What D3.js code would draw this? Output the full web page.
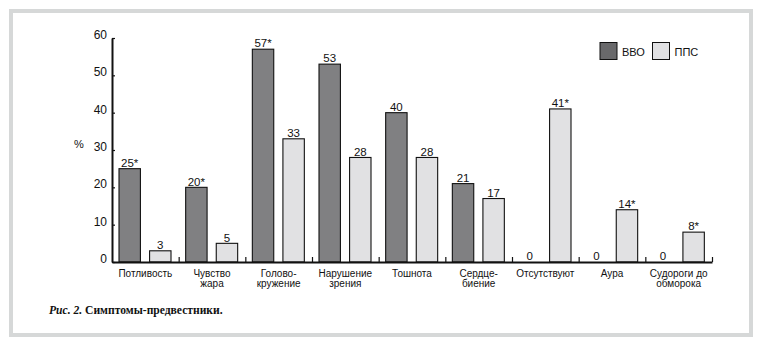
<!DOCTYPE html>
<html>
<head>
<meta charset="utf-8">
<script src="https://cdn.jsdelivr.net/npm/d3@7"></script>
<style>
  html, body { margin: 0; padding: 0; background: #ffffff; }
  svg { display: block; }
</style>
</head>
<body>
<svg id="chart" width="760" height="346"></svg>
<script>
// ---- data ----
const categories = ["Потливость", "Чувство\nжара", "Голово-\nкружение", "Нарушение\nзрения", "Тошнота", "Сердце-\nбиение", "Отсутствуют", "Аура", "Судороги до\nобморока"];
const seriesNames = ["ВВО", "ППС"];
const vvoValues = [25, 20, 57, 53, 40, 21, 0, 0, 0];
const ppsValues = [3, 5, 33, 28, 28, 17, 41, 14, 8];
const vvoMarks = ["*", "*", "*", "", "", "", "", "", ""];
const ppsMarks = ["", "", "", "", "", "", "*", "*", "*"];
const yTicks = [0, 10, 20, 30, 40, 50, 60];
const yLabel = "%";
const captionItalic = "Рис. 2.";
const captionBold = " Симптомы-предвестники.";

(function () {
const seriesValues = [vvoValues, ppsValues];
const seriesMarks = [vvoMarks, ppsMarks];
const fills = ["#808082", "#e1e1e3"];
const legendFills = ["#69696b", "#e1e1e3"];

const svg = d3.select("#chart");

// frame
svg.append("rect").attr("x", 11).attr("y", 11).attr("width", 740).attr("height", 324)
  .attr("fill", "#ffffff").attr("stroke", "#d6d8d8").attr("stroke-width", 4);

const mLeft = 112, mRight = 712, mTop = 38, mBottom = 262;

const x = d3.scaleBand().domain(categories).range([mLeft, mRight]).padding(0);
const xInner = d3.scaleBand().domain(seriesNames).range([7, 59]).paddingInner(0.3).paddingOuter(0);
const y = d3.scaleLinear().domain([0, 60]).range([mBottom, mTop]);
const xIdx = d3.scaleLinear().domain([0, categories.length]).range([mLeft, mRight]);

const font = "'Liberation Sans', Arial, Helvetica, sans-serif";

// bars
const rows = [];
categories.forEach((c, i) => {
  seriesNames.forEach((s, j) => {
    rows.push({cat: c, s: s, j: j, v: seriesValues[j][i], m: seriesMarks[j][i]});
  });
});

svg.append("g").selectAll("rect").data(rows.filter(d => d.v > 0)).join("rect")
  .attr("x", d => x(d.cat) + xInner(d.s))
  .attr("y", d => y(d.v))
  .attr("width", xInner.bandwidth())
  .attr("height", d => y(0) - y(d.v))
  .attr("fill", d => fills[d.j])
  .attr("stroke", "#111")
  .attr("stroke-width", 1.1);

// value labels
svg.append("g").selectAll("text").data(rows).join("text")
  .attr("x", d => x(d.cat) + xInner(d.s) + xInner.bandwidth() / 2)
  .attr("y", d => y(d.v) - 1.8)
  .attr("text-anchor", "middle")
  .attr("font-family", font)
  .attr("font-size", 11.5)
  .attr("fill", "#111")
  .text(d => d.v + d.m);

// y axis
const yAxis = svg.append("g").attr("transform", `translate(${mLeft},0)`)
  .call(d3.axisLeft(y).tickValues(yTicks).tickSize(-3).tickSizeOuter(0).tickPadding(5));
yAxis.select(".domain").attr("stroke", "#111").attr("stroke-width", 2);
yAxis.selectAll(".tick line").attr("stroke", "#111").attr("stroke-width", 1.2);
yAxis.selectAll(".tick text").attr("font-family", font).attr("font-size", 12)
  .attr("fill", "#111").attr("dy", "0.05em");

// x axis (boundary ticks)
const xAxis = svg.append("g").attr("transform", `translate(0,${mBottom})`)
  .call(d3.axisBottom(xIdx).tickValues(d3.range(1, categories.length + 1)).tickSize(-5).tickSizeOuter(0).tickFormat(""));
xAxis.select(".domain").attr("stroke", "#111").attr("stroke-width", 2);
xAxis.selectAll(".tick line").attr("stroke", "#111").attr("stroke-width", 1.2);

// category labels
const catG = svg.append("g").selectAll("text").data(categories).join("text")
  .attr("x", d => x(d) + x.bandwidth() / 2)
  .attr("y", 277.3)
  .attr("text-anchor", "middle")
  .attr("font-family", font)
  .attr("font-size", 10)
  .attr("fill", "#111");
catG.each(function(d) {
  const t = d3.select(this);
  d.split("\n").forEach((line, k) => {
    t.append("tspan").attr("x", x(d) + x.bandwidth() / 2).attr("dy", k === 0 ? 0 : 9.4).text(line);
  });
});

// y label
svg.append("text").attr("x", 74).attr("y", 148).attr("font-family", font)
  .attr("font-size", 11).attr("fill", "#111").text(yLabel);

// legend
const legendX = [600, 652.5];
seriesNames.forEach((s, j) => {
  svg.append("rect").attr("x", legendX[j]).attr("y", 42.5).attr("width", 17).attr("height", 17)
    .attr("fill", legendFills[j]).attr("stroke", "#111").attr("stroke-width", 1);
  svg.append("text").attr("x", legendX[j] + 22).attr("y", 55.5)
    .attr("font-family", font).attr("font-size", 11).attr("fill", "#111").text(s);
});

// caption
const cap = svg.append("text").attr("x", 49).attr("y", 314)
  .attr("font-family", "'Liberation Serif', 'Times New Roman', serif")
  .attr("font-size", 11.6).attr("font-weight", "bold").attr("fill", "#111");
cap.append("tspan").attr("font-style", "italic").text(captionItalic);
cap.append("tspan").text(captionBold);
})();
</script>
</body>
</html>
